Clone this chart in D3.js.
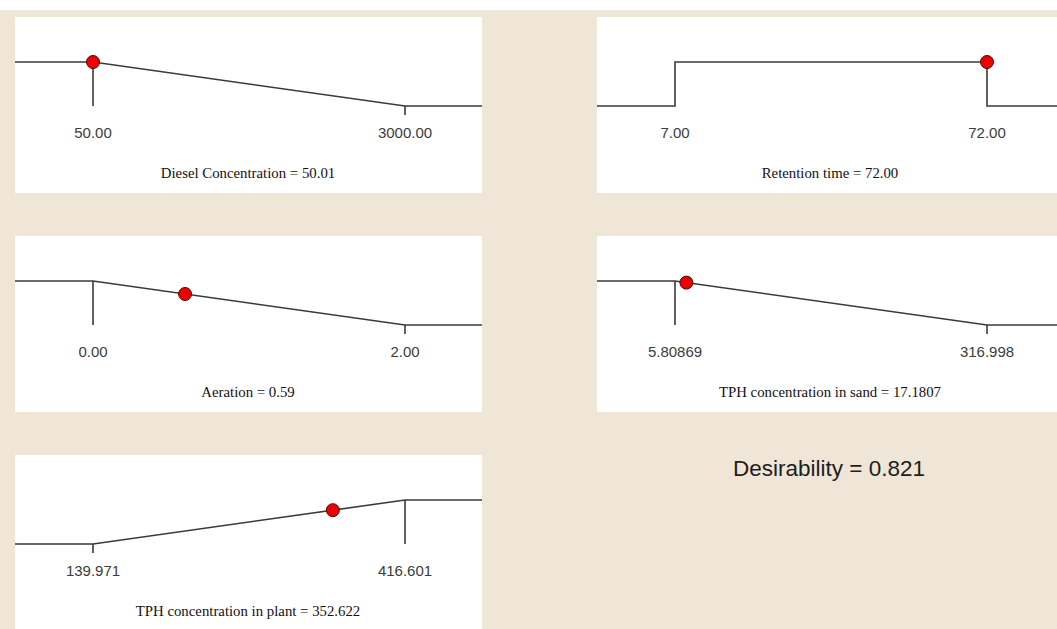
<!DOCTYPE html>
<html>
<head>
<meta charset="utf-8">
<script src="https://cdn.jsdelivr.net/npm/d3@7"></script>
<style>
  html, body { margin: 0; padding: 0; background: #ffffff; }
  svg { display: block; }
</style>
</head>
<body>
<svg id="chart" width="1057" height="629"></svg>
<script>
// Factor / response ramps of the optimisation solution
const factorNames = ["Diesel Concentration", "Retention time", "Aeration", "TPH concentration in sand", "TPH concentration in plant"];
const lowLimits = [50, 7, 0, 5.80869, 139.971];
const highLimits = [3000, 72, 2, 316.998, 416.601];
const goals = ["minimize", "in range", "minimize", "minimize", "maximize"];
const currentValues = [50.01, 72.00, 0.59, 17.1807, 352.622];
const lowLabels = ["50.00", "7.00", "0.00", "5.80869", "139.971"];
const highLabels = ["3000.00", "72.00", "2.00", "316.998", "416.601"];
const valueLabels = ["50.01", "72.00", "0.59", "17.1807", "352.622"];
const overallDesirability = 0.821;

const W = 1057, H = 629;
const svg = d3.select("#chart");
const beige = "#efe6d8";
const ink = "#3a3a3a";

// background: thin white strip on top, beige canvas beneath
svg.append("rect").attr("x", 0).attr("y", 10).attr("width", W).attr("height", H - 10).attr("fill", beige);

// panel grid
const colX = [15, 597];
const colW = [467, 460];
const rowY = [17, 236, 455];
const panelH = 176;
const panels = factorNames.map((name, i) => ({
  i, name,
  col: i % 2,
  row: Math.floor(i / 2)
}));

function desir(goal, lo, hi, v) {
  if (goal === "in range") return (v >= lo && v <= hi) ? 1 : 0;
  const t = Math.max(0, Math.min(1, (v - lo) / (hi - lo)));
  return goal === "maximize" ? t : 1 - t;
}

panels.forEach(p => {
  const i = p.i;
  const px = colX[p.col], py = rowY[p.row];
  const pw = colW[p.col];
  const ph = Math.min(panelH, H - py);
  const lo = lowLimits[i], hi = highLimits[i], goal = goals[i];

  const g = svg.append("g").attr("transform", `translate(${px},${py})`);
  const clipId = "clip" + i;
  g.append("clipPath").attr("id", clipId)
    .append("rect").attr("width", pw).attr("height", ph);
  g.append("rect").attr("width", pw).attr("height", ph).attr("fill", "#ffffff");

  const inner = g.append("g").attr("clip-path", `url(#${clipId})`);

  const x = d3.scaleLinear().domain([lo, hi]).range([78, 390]);
  const y = d3.scaleLinear().domain([0, 1]).range([89, 45]);
  const xL = x.invert(0), xR = x.invert(pw);

  // desirability ramp
  let pts;
  if (goal === "minimize") pts = [[xL, 1], [lo, 1], [hi, 0], [xR, 0]];
  else if (goal === "maximize") pts = [[xL, 0], [lo, 0], [hi, 1], [xR, 1]];
  else pts = [[xL, 0], [lo, 0], [lo, 1], [hi, 1], [hi, 0], [xR, 0]];

  const line = d3.line().x(d => x(d[0])).y(d => y(d[1]));
  inner.append("path").attr("d", line(pts))
    .attr("fill", "none").attr("stroke", ink).attr("stroke-width", 1.6);

  // limit ticks
  if (goal !== "in range") {
    [lo, hi].forEach(v => {
      const d = desir(goal, lo, hi, v);
      const y1 = d === 1 ? y(1) : y(0);
      const y2 = d === 1 ? y(0) : y(0) + 9;
      inner.append("line")
        .attr("x1", x(v)).attr("x2", x(v)).attr("y1", y1).attr("y2", y2)
        .attr("stroke", ink).attr("stroke-width", 1.6);
    });
  }

  // limit labels
  [[lo, lowLabels[i]], [hi, highLabels[i]]].forEach(([v, t]) => {
    inner.append("text")
      .attr("x", x(v)).attr("y", 121)
      .attr("text-anchor", "middle")
      .attr("font-family", "'Liberation Sans', Arial, sans-serif")
      .attr("font-size", 15)
      .attr("fill", "#3c3c3c")
      .text(t);
  });

  // current setting
  const v = currentValues[i];
  inner.append("circle")
    .attr("cx", x(v)).attr("cy", y(desir(goal, lo, hi, v)))
    .attr("r", 6.5)
    .attr("fill", "#ee0000").attr("stroke", "#4a0c0c").attr("stroke-width", 1);

  // caption
  inner.append("text")
    .attr("x", 233).attr("y", 161)
    .attr("text-anchor", "middle")
    .attr("font-family", "'Liberation Serif', 'Times New Roman', serif")
    .attr("font-size", 14.8)
    .attr("fill", "#111")
    .text(`${p.name} = ${valueLabels[i]}`);
});

// overall desirability
svg.append("text")
  .attr("x", 829).attr("y", 476)
  .attr("text-anchor", "middle")
  .attr("font-family", "'Liberation Sans', Arial, sans-serif")
  .attr("font-size", 22.5)
  .attr("fill", "#1e1e1e")
  .text(`Desirability = ${overallDesirability.toFixed(3)}`);
</script>
</body>
</html>
